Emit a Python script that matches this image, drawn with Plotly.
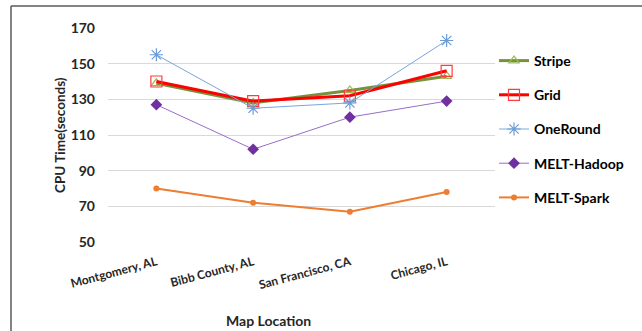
import plotly.graph_objects as go

# Map locations on the x axis
locations = ["Montgomery, AL", "Bibb County, AL", "San Francisco, CA", "Chicago, IL"]

# CPU time (seconds) per method
stripe = [139, 128, 135, 143]
grid = [140, 129, 132, 146]
one_round = [155, 125, 128, 163]
melt_hadoop = [127, 102, 120, 129]
melt_spark = [80, 72, 67, 78]

y_ticks = [50, 70, 90, 110, 130, 150, 170]

W, H = 642, 331
L, R, T, B = 108, 147, 28, 89
FONT = "Lato, Calibri, Carlito, sans-serif"

fig = go.Figure()

series = [
    dict(name="Stripe", y=stripe, line=dict(color="#76923C", width=3),
         marker=dict(symbol="triangle-up-open", size=9, color="#9BBB59", line=dict(width=1.2))),
    dict(name="Grid", y=grid, line=dict(color="#FF0000", width=3),
         marker=dict(symbol="square-open", size=11, color="#FF3B3B", line=dict(width=1.2))),
    dict(name="OneRound", y=one_round, line=dict(color="#7AA6DC", width=1),
         marker=dict(symbol="asterisk-open", size=11, color="#6C9BD6", line=dict(width=1.2))),
    dict(name="MELT-Hadoop", y=melt_hadoop, line=dict(color="#9B6BCB", width=1),
         marker=dict(symbol="diamond", size=9, color="#7030A0")),
    dict(name="MELT-Spark", y=melt_spark, line=dict(color="#ED7D31", width=2),
         marker=dict(symbol="circle", size=6, color="#ED7D31")),
]

for s in series:
    fig.add_trace(go.Scatter(
        x=locations, y=s["y"], name=s["name"], mode="lines+markers",
        line=s["line"], marker=s["marker"], legendgroup=s["name"],
    ))

def px_x(px):
    return (px - L) / (W - L - R)

def px_y(py):
    return (H - B - py) / (H - T - B)

# Frame around the chart area (top and left edges)
frame = dict(color="#5A5A5A", width=1.5)
fig.add_shape(type="line", xref="paper", yref="paper",
              x0=px_x(11), x1=px_x(650), y0=px_y(6), y1=px_y(6), line=frame)
fig.add_shape(type="line", xref="paper", yref="paper",
              x0=px_x(11), x1=px_x(11), y0=px_y(6), y1=px_y(340), line=frame)

fig.add_annotation(text="<b>Map Location</b>", xref="paper", yref="paper",
                   x=px_x(268), y=px_y(320), xanchor="center", yanchor="middle",
                   showarrow=False,
                   font=dict(family=FONT, size=14, color="#262626"))
fig.add_annotation(text="<b>CPU Time(seconds)</b>", xref="paper", yref="paper",
                   x=px_x(60), y=px_y(135), xanchor="center", yanchor="middle",
                   showarrow=False, textangle=-90,
                   font=dict(family=FONT, size=13.5, color="#262626"))

fig.update_layout(
    width=W, height=H,
    margin=dict(l=L, r=R, t=T, b=B),
    paper_bgcolor="white", plot_bgcolor="white",
    font=dict(family=FONT, color="#262626"),
    legend=dict(x=px_x(494), y=px_y(45), xanchor="left", yanchor="top",
                tracegroupgap=13, itemwidth=30,
                font=dict(family=FONT, size=14, color="#000000", weight="bold"),
                bgcolor="rgba(0,0,0,0)"),
    xaxis=dict(range=[-0.5, 3.5], showgrid=False, showline=False, ticks="",
               tickangle=-15, ticklabelstandoff=10,
               tickfont=dict(family=FONT, size=12, weight="bold", color="#262626")),
    yaxis=dict(range=[50, 170], tickvals=y_ticks, showgrid=True, gridcolor="#D9D9D9",
               gridwidth=1, zeroline=False, showline=False, ticks="",
               ticklabelstandoff=12,
               tickfont=dict(family=FONT, size=14, weight="bold", color="#262626")),
    showlegend=True,
)

fig.write_html("out.html")
